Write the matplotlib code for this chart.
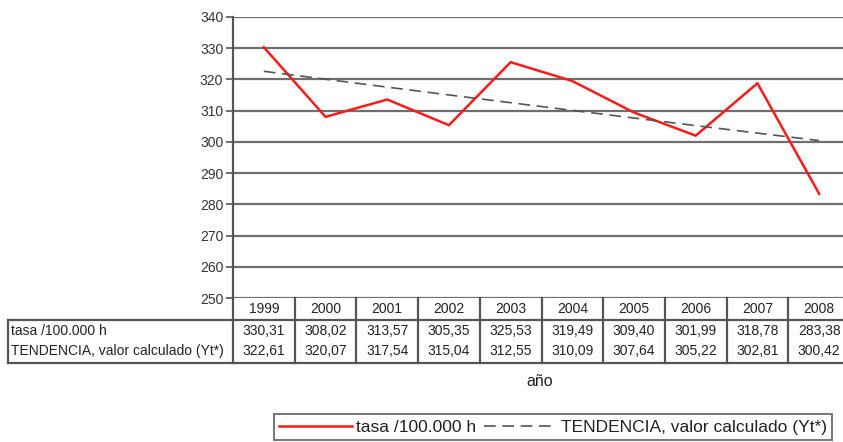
import matplotlib
matplotlib.use("Agg")
import matplotlib.pyplot as plt
from matplotlib.lines import Line2D

plt.rcParams["font.family"] = ["Liberation Sans", "DejaVu Sans"]

# Datos
anos = ["1999", "2000", "2001", "2002", "2003", "2004", "2005", "2006", "2007", "2008"]
tasa = [330.31, 308.02, 313.57, 305.35, 325.53, 319.49, 309.40, 301.99, 318.78, 283.38]
tendencia = [322.61, 320.07, 317.54, 315.04, 312.55, 310.09, 307.64, 305.22, 302.81, 300.42]
etiquetas = ["tasa /100.000 h", "TENDENCIA, valor calculado (Yt*)"]
y_ticks = list(range(250, 341, 10))

W, H = 843, 442
fig = plt.figure(figsize=(W / 100, H / 100), dpi=100)
fig.patch.set_facecolor("white")


def fx(x):
    return x / W


def fy(y):
    return 1 - y / H


# Zona del grafico (el borde derecho queda recortado como en el original)
izq, der, arriba, abajo = 233, 850, 17, 298
ax = fig.add_axes([fx(izq), fy(abajo), fx(der - izq), (abajo - arriba) / H])
x = list(range(len(anos)))

ax.plot(x, tasa, color="#ff1a1a", linewidth=1.8, label=etiquetas[0], zorder=3)
ax.plot(x, tendencia, color="#555555", linewidth=1.2, linestyle=(0, (7, 4)), label=etiquetas[1], zorder=3)

ax.set_xlim(-0.5, len(anos) - 0.5)
ax.set_ylim(250, 340)
ax.set_yticks(y_ticks)
ax.set_xticks([])
ax.yaxis.grid(True, color="#6e6e6e", linewidth=1.6)
ax.set_axisbelow(True)
for lado in ["top", "right", "bottom"]:
    ax.spines[lado].set_visible(False)
ax.spines["left"].set_color("#555555")
ax.spines["left"].set_linewidth(1.6)
ax.tick_params(axis="y", length=5, width=1.2, color="#555555", labelsize=10, pad=2, labelcolor="#333333")
ax.patch.set_alpha(0)

# Tabla de datos debajo del grafico
col_w = (der - izq) / len(anos)
y_cab, y_fila1, y_fin = 298, 320, 363
borde_izq = 8
color_tabla = "#555555"


def linea(x0, y0, x1, y1):
    fig.add_artist(Line2D([fx(x0), fx(x1)], [fy(y0), fy(y1)], transform=fig.transFigure,
                          color=color_tabla, linewidth=1.6))


for i in range(len(anos) + 1):
    xc = izq + i * col_w
    linea(xc, y_cab, xc, y_fin)
linea(borde_izq, y_fila1, der, y_fila1)
linea(borde_izq, y_fin, der, y_fin)
linea(borde_izq, y_fila1, borde_izq, y_fin)

fs_tabla = 10
for i, ano in enumerate(anos):
    xc = fx(izq + (i + 0.5) * col_w)
    fig.text(xc, fy((y_cab + y_fila1) / 2), ano, ha="center", va="center", fontsize=fs_tabla, color="#222222")
    fig.text(xc, fy(y_fila1 + 11), f"{tasa[i]:.2f}".replace(".", ","), ha="center", va="center",
             fontsize=fs_tabla, color="#222222")
    fig.text(xc, fy(y_fila1 + 31), f"{tendencia[i]:.2f}".replace(".", ","), ha="center", va="center",
             fontsize=fs_tabla, color="#222222")

fig.text(fx(11), fy(y_fila1 + 11), etiquetas[0], ha="left", va="center", fontsize=fs_tabla, color="#222222")
fig.text(fx(11), fy(y_fila1 + 31), etiquetas[1], ha="left", va="center", fontsize=fs_tabla, color="#222222")

fig.text(fx(540), fy(381), "año", ha="center", va="center", fontsize=11.5, color="#222222")

# Leyenda
handles, labels = ax.get_legend_handles_labels()
leg = fig.legend(handles, labels, loc="center", bbox_to_anchor=(fx(553), fy(427)), ncol=2,
                 fontsize=12.5, frameon=True, fancybox=False, handlelength=4.2, handletextpad=0.25,
                 columnspacing=0.4, borderpad=0.3, labelcolor="#222222")
leg.get_frame().set_edgecolor("#555555")
leg.get_frame().set_linewidth(1.4)

fig.savefig("out.png", dpi=100)
